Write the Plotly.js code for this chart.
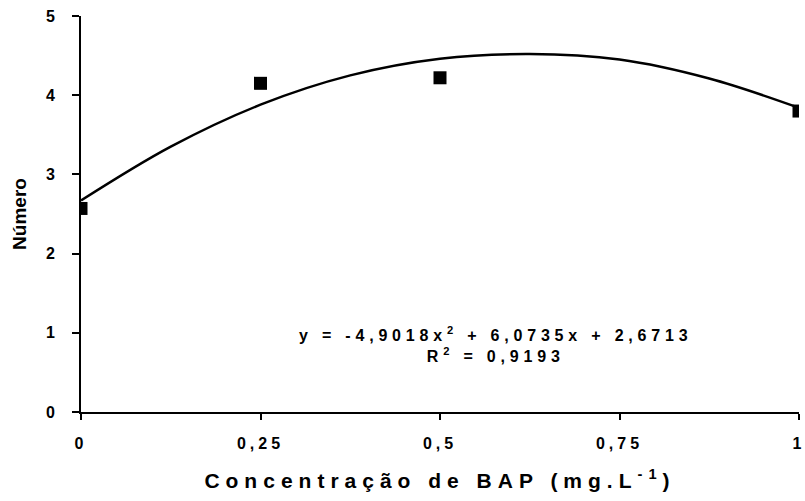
<!DOCTYPE html>
<html>
<head>
<meta charset="utf-8">
<script src="https://cdn.plot.ly/plotly-3.0.1.min.js"></script>
<style>
body{margin:0;padding:0;background:#fff;}
.xtitle{letter-spacing:6px;}
.xtick text{letter-spacing:4px;}
.annotation-text{letter-spacing:4.8px;}
</style>
</head>
<body>
<div id="chart" style="width:805px;height:501px;"></div>
<script>
// Observed data
const concentracao = [0, 0.25, 0.5, 1];
const numero = [2.57, 4.15, 4.22, 3.8];
// Trend curve
const curveX = [0, 0.125, 0.25, 0.375, 0.5, 0.625, 0.75, 0.875, 1];
const curveY = [2.67, 3.35, 3.88, 4.25, 4.46, 4.52, 4.45, 4.21, 3.84];
// Tick labels
const xTickVals = [0, 0.25, 0.5, 0.75, 1];
const xTickText = ['0', '0,25', '0,5', '0,75', '1'];
const yTickVals = [0, 1, 2, 3, 4, 5];
const yTickText = ['0', '1', '2', '3', '4', '5'];
const eqText = 'y = -4,9018x<sup>2</sup> + 6,0735x + 2,6713<br>R<sup>2</sup> = 0,9193';

const fontFam = 'Liberation Sans, Arial, sans-serif';

const traces = [
  {x: curveX, y: curveY, type: 'scatter', mode: 'lines', line: {color: '#000', width: 2.5, shape: 'spline'}, hoverinfo: 'skip'},
  {x: concentracao, y: numero, type: 'scatter', mode: 'markers', marker: {symbol: 'square', size: 13, color: '#000'}}
];

const layout = {
  width: 805, height: 501,
  margin: {l: 81, r: 6, t: 16, b: 89},
  paper_bgcolor: '#fff', plot_bgcolor: '#fff',
  showlegend: false,
  separators: ',.',
  xaxis: {
    range: [0, 1], tickvals: xTickVals, ticktext: xTickText,
    showgrid: false, zeroline: false, showline: true, linecolor: '#000', linewidth: 2,
    ticks: 'outside', ticklen: 6, tickwidth: 2, tickcolor: '#000',
    ticklabelstandoff: 10, ticklabeloverflow: 'allow',
    tickfont: {family: fontFam, size: 16, color: '#000', weight: 'bold'},
    title: {text: 'Concentração de BAP (mg.L<sup>-1</sup>)', standoff: 22, font: {family: fontFam, size: 21, color: '#000', weight: 'bold'}}
  },
  yaxis: {
    range: [0, 5], tickvals: yTickVals, ticktext: yTickText,
    showgrid: false, zeroline: false, showline: true, linecolor: '#000', linewidth: 2,
    ticks: 'outside', ticklen: 7, tickwidth: 2, tickcolor: '#000',
    ticklabelstandoff: 14,
    tickfont: {family: fontFam, size: 16, color: '#000', weight: 'bold'},
    title: {text: 'Número', standoff: 14, font: {family: fontFam, size: 19, color: '#000', weight: 'bold'}}
  },
  annotations: [{
    xref: 'x', yref: 'y', x: 0.577, y: 0.85, showarrow: false, align: 'center',
    text: eqText, font: {family: fontFam, size: 16, color: '#000', weight: 'bold'}
  }]
};

Plotly.newPlot('chart', traces, layout, {displayModeBar: false, staticPlot: true});
</script>
</body>
</html>
